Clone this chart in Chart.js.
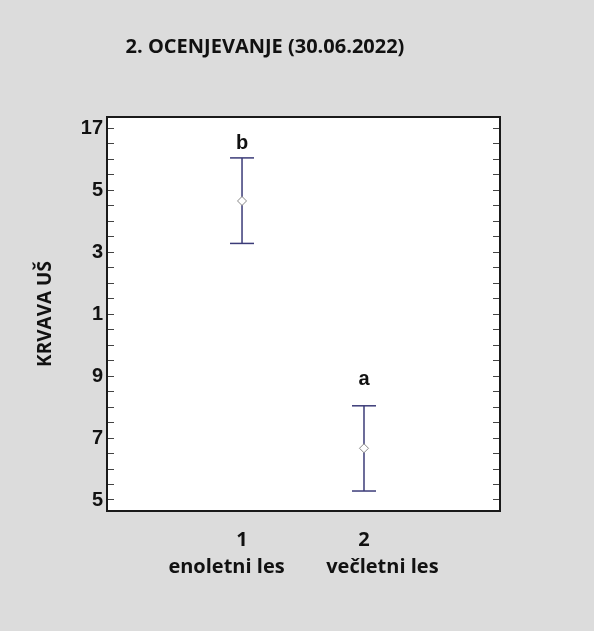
<!DOCTYPE html>
<html>
<head>
<meta charset="utf-8">
<script src="https://cdn.jsdelivr.net/npm/chart.js@4/dist/chart.umd.min.js"></script>
<style>
  html, body { margin: 0; padding: 0; background: #dcdcdc; }
  #chart { display: block; }
</style>
</head>
<body>
<canvas id="chart" width="520" height="631"></canvas>
<script>
// groups along x
const groupX = [1, 2];
const xTickLabels = ['1', '2'];
const groupNames = ['enoletni les', 'večletni les'];

// means with lower / upper interval limits
const means = [14.65, 6.67];
const lower = [13.28, 5.29];
const upper = [16.04, 8.04];
const letters = ['b', 'a'];

// y axis ticks as printed on the picture
const yTickValues = [5, 7, 9, 11, 13, 15, 17];
const yTickLabels = ['5', '7', '9', '1', '3', '5', '17'];
const yMinorStep = 0.5;

const navy = '#3b3b78';
const tickColor = '#444';

function minorTicks() {
  const out = [];
  const first = yTickValues[0];
  const last = yTickValues[yTickValues.length - 1];
  for (let v = first; v <= last + 1e-9; v += yMinorStep) {
    out.push({ value: Math.round(v * 100) / 100 });
  }
  return out;
}

// grey page, white plot area and the black frame
const framePlugin = {
  id: 'frame',
  beforeDraw(chart) {
    const { ctx, chartArea: a } = chart;
    ctx.save();
    ctx.fillStyle = '#dcdcdc';
    ctx.fillRect(0, 0, chart.width, chart.height);
    ctx.fillStyle = '#ffffff';
    ctx.fillRect(a.left, a.top, a.right - a.left, a.bottom - a.top);
    ctx.restore();
  },
  afterDraw(chart) {
    const { ctx, chartArea: a } = chart;
    ctx.save();
    ctx.strokeStyle = '#1a1a1a';
    ctx.lineWidth = 2;
    ctx.strokeRect(a.left, a.top, a.right - a.left, a.bottom - a.top);
    ctx.restore();
  }
};

// significance letters above each interval
const lettersPlugin = {
  id: 'letters',
  afterDatasetsDraw(chart, args, opts) {
    const { ctx, scales } = chart;
    ctx.save();
    ctx.font = 'bold 20px "Liberation Sans", Arial, sans-serif';
    ctx.fillStyle = '#111';
    ctx.textAlign = 'center';
    ctx.textBaseline = 'alphabetic';
    letters.forEach((l, i) => {
      const x = scales.x.getPixelForValue(groupX[i]);
      const y = scales.y.getPixelForValue(upper[i]) - opts.gaps[i];
      ctx.fillText(l, x, y);
    });
    ctx.restore();
  }
};

const whiskers = groupX.map((x, i) => ({
  data: [{ x: x, y: lower[i] }, { x: x, y: upper[i] }],
  showLine: true,
  borderColor: navy,
  borderWidth: 1.5,
  pointRadius: 0
}));

const caps = {
  data: groupX.flatMap((x, i) => [{ x: x, y: lower[i] }, { x: x, y: upper[i] }]),
  pointStyle: 'line',
  pointRadius: 12,
  pointBorderColor: navy,
  pointBorderWidth: 1.5
};

const meanPoints = {
  data: groupX.map((x, i) => ({ x: x, y: means[i] })),
  pointStyle: 'rectRot',
  pointRadius: 4.5,
  pointBackgroundColor: '#ffffff',
  pointBorderColor: '#8a8a8a',
  pointBorderWidth: 1
};

new Chart(document.getElementById('chart'), {
  type: 'scatter',
  data: { datasets: [meanPoints, caps, ...whiskers] },
  options: {
    responsive: false,
    devicePixelRatio: 1,
    animation: false,
    layout: { padding: { left: 30, right: 20, top: 0, bottom: 0 } },
    plugins: {
      legend: { display: false },
      tooltip: { enabled: false },
      title: {
        display: true,
        text: '2. OCENJEVANJE (30.06.2022)',
        color: '#111',
        font: { family: '"Open Sans", sans-serif', size: 20, weight: 'bold' },
        padding: { top: 35, bottom: 58 }
      },
      letters: { gaps: [9, 21] }
    },
    scales: {
      x: {
        type: 'linear',
        min: -0.107,
        max: 3.115,
        afterBuildTicks: (s) => { s.ticks = groupX.map(v => ({ value: v })); },
        afterFit: (s) => { s.height = 120; },
        grid: { drawOnChartArea: false, drawTicks: false },
        border: { display: false },
        ticks: {
          padding: 17,
          color: '#111',
          font: { family: '"Open Sans", sans-serif', size: 20, weight: 'bold' },
          callback: (v) => xTickLabels[groupX.indexOf(v)] ?? ''
        },
        title: {
          display: true,
          text: groupNames.join('\u00a0'.repeat(8)),
          color: '#111',
          font: { family: '"Open Sans", sans-serif', size: 20, weight: 'bold' },
          padding: { top: 0, bottom: 52 }
        }
      },
      y: {
        min: 4.645,
        max: 17.36,
        afterBuildTicks: (s) => { s.ticks = minorTicks(); },
        afterFit: (s) => { s.width = 77; },
        grid: { drawOnChartArea: false, tickLength: -7, color: tickColor, lineWidth: 1 },
        border: { display: false },
        ticks: {
          autoSkip: false,
          padding: 11,
          color: '#111',
          font: { family: '"Liberation Sans", Arial, sans-serif', size: 20, weight: 'bold' },
          callback: (v) => {
            const i = yTickValues.indexOf(v);
            return i >= 0 ? yTickLabels[i] : '';
          }
        },
        title: {
          display: true,
          text: 'KRVAVA UŠ',
          color: '#111',
          font: { family: '"Open Sans", sans-serif', size: 19, weight: 'bold' },
          padding: { top: 4, bottom: 0 }
        }
      },
      y2: {
        position: 'right',
        min: 4.645,
        max: 17.36,
        afterBuildTicks: (s) => { s.ticks = minorTicks(); },
        afterFit: (s) => { s.width = 0; },
        grid: { drawOnChartArea: false, tickLength: -7, color: tickColor, lineWidth: 1 },
        border: { display: false },
        ticks: { autoSkip: false, padding: 7, callback: () => '' }
      }
    }
  },
  plugins: [framePlugin, lettersPlugin]
});
</script>
</body>
</html>
